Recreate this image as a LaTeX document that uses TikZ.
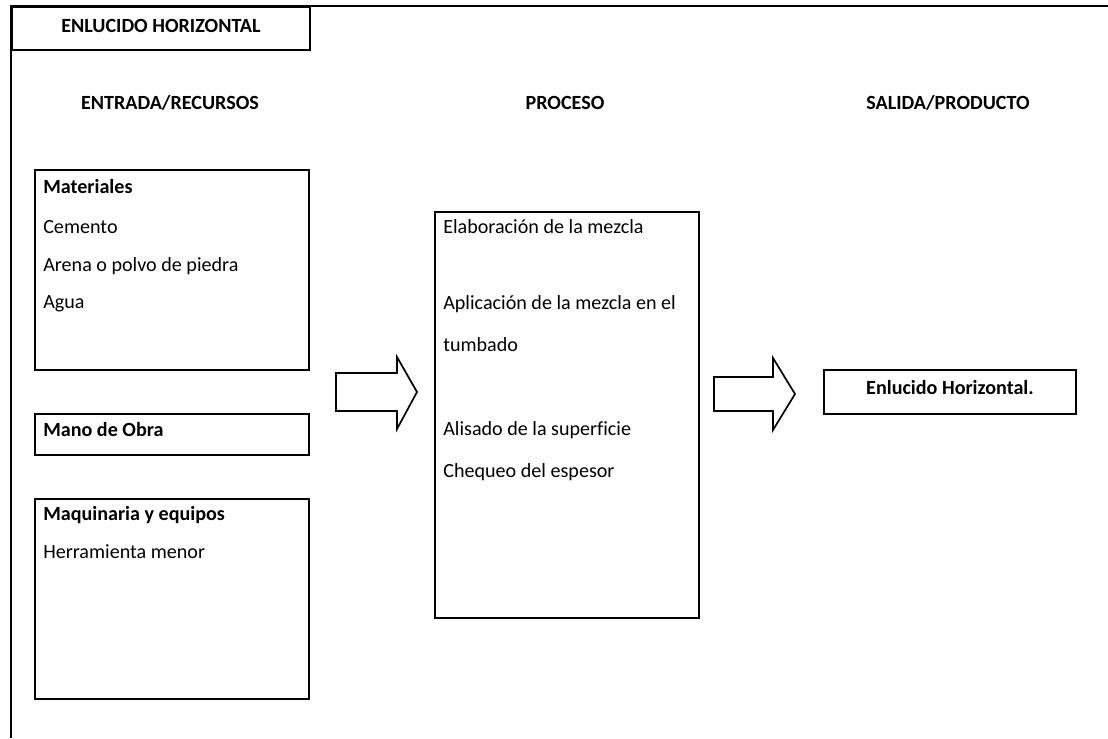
\documentclass[tikz,border=0pt]{standalone}
\usepackage{fontspec}
\setmainfont[Ligatures=NoCommon]{Carlito}
\usepackage{tikz}
\usetikzlibrary{positioning}

\tikzset{
  box/.style={draw, line width=1.3pt, inner sep=0pt, anchor=north west},
  txt/.style={inner sep=0pt, anchor=west, font=\fontsize{14.3}{17}\selectfont},
  btxt/.style={txt, font=\fontsize{14.3}{17}\selectfont\bfseries},
  head/.style={inner sep=0pt, font=\fontsize{14.3}{17}\selectfont\bfseries},
  blockarrow/.style={draw, line width=1.2pt, line join=miter}
}

\begin{document}
\begin{tikzpicture}[x=0.025cm, y=-0.025cm]
    \useasboundingbox (0,0) rectangle (1108,738);
    %frame and title
    \draw [line width=1.3pt] (11,738) -- (11,6) -- (1108,6);
    \node (title) [box, minimum width=7.45cm, minimum height=1.075cm] at (11,6) {};
    \node [head] at (title.center) [yshift=0.05cm] {ENLUCIDO HORIZONTAL};
    %column headings
    \node (entrada) [head] at (170,103) {ENTRADA/RECURSOS};
    \node (proceso) [head] at (565,103) {PROCESO};
    \node (salida) [head] at (948,103) {SALIDA/PRODUCTO};
    %input boxes
    \node (mat) [box, minimum width=6.85cm, minimum height=5cm] at (34,169) {};
    \node (matA) [btxt] at (43,187) {Materiales};
    \node (matB) [txt] at (43,227) {Cemento};
    \node (matC) [txt] at (43,266) {Arena o polvo de piedra};
    \node (matD) [txt] at (43,304) {Agua};
    \node (obra) [box, minimum width=6.85cm, minimum height=1.025cm] at (34,413) {};
    \node (obraA) [btxt] at (43,430) {Mano de Obra};
    \node (maq) [box, minimum width=6.85cm, minimum height=5cm] at (34,498) {};
    \node (maqA) [btxt] at (43,515) {Maquinaria y equipos};
    \node (maqB) [txt] at (43,552) {Herramienta menor};
    %process box
    \node (proc) [box, minimum width=6.6cm, minimum height=10.15cm] at (434,211) {};
    \node (procA) [txt] at (443,227) {Elaboración de la mezcla};
    \node (procB) [txt] at (443,304) {Aplicación de la mezcla en el};
    \node (procC) [txt] at (443,345) {tumbado};
    \node (procD) [txt] at (443,430) {Alisado de la superficie};
    \node (procE) [txt] at (443,472) {Chequeo del espesor};
    %output box
    \node (prod) [box, minimum width=6.3cm, minimum height=1.1cm] at (823,369) {};
    \node (prodA) [head] at (prod.center) [yshift=0.12cm] {Enlucido Horizontal.};
    %block arrows
    \draw [blockarrow] (336,373) -- (397,373) -- (397,357) -- (417,392) -- (397,429) -- (397,411) -- (336,411) -- cycle;
    \draw [blockarrow] (714,377) -- (773,377) -- (773,358) -- (795,394) -- (773,430) -- (773,411) -- (714,411) -- cycle;
\end{tikzpicture}
\end{document}
